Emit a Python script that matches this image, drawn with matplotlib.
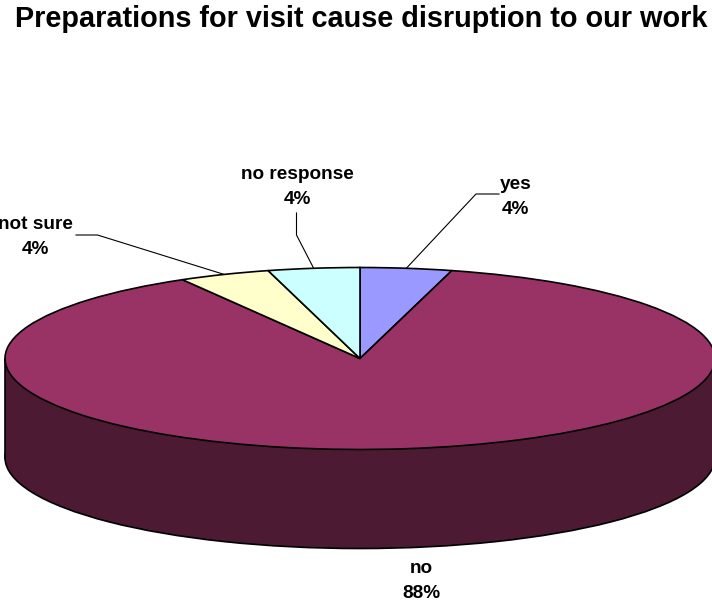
import numpy as np
import matplotlib
matplotlib.use('Agg')
import matplotlib.pyplot as plt

plt.rcParams['font.family'] = ['Liberation Sans', 'DejaVu Sans']

W, H = 712, 603
categories = ['yes', 'no', 'not sure', 'no response']
counts = [1, 21, 1, 1]
pct_labels = ['4%', '88%', '4%', '4%']
top_colors = ['#9999FF', '#993366', '#FFFFCC', '#CCFFFF']
wall_color = '#4C1B33'

# pie geometry in pixels of the picture
cx, cy = 360, 358.5
rx, ry = 355, 91
depth = 99

# label centre x and baseline of the first line, then elbows of the leader line
label_pos = {'yes': (515.5, 189), 'no': (421, 573), 'not sure': (35.5, 229), 'no response': (297, 179)}
line_step = 25
elbows = {'yes': [(476, 194), (499, 194)],
          'not sure': [(97.5, 235), (76, 235)],
          'no response': [(296.5, 235), (296.5, 213)]}


def to_data(x, y):
    return (x - cx) / rx, (cy - y) / ry


fig = plt.figure(figsize=(W / 100, H / 100), dpi=100)
ax = fig.add_axes([0, 0, 1, 1])

# side wall: bottom ellipse + band between the two ellipses
d = depth / ry
ax.pie([sum(counts)], colors=[wall_color], radius=1, center=(0, -d),
       wedgeprops={'edgecolor': 'black', 'linewidth': 1.2})
ax.fill_between([-1, 1], [-d, -d], [0, 0], color=wall_color, linewidth=0)
ax.plot([-1, -1], [-d, 0], color='black', lw=1.2)
ax.plot([1, 1], [-d, 0], color='black', lw=1.2)

# top face
wedges, _ = ax.pie(counts, colors=top_colors, startangle=90, counterclock=False, radius=1,
                   center=(0, 0), wedgeprops={'edgecolor': 'black', 'linewidth': 1.2})

ax.set_aspect('auto')
ax.set_xlim(to_data(0, 0)[0], to_data(W, 0)[0])
ax.set_ylim(to_data(0, H)[1], to_data(0, 0)[1])
ax.axis('off')

# labels and leader lines
for cat, pct, w in zip(categories, pct_labels, wedges):
    lx, ly = label_pos[cat]
    for i, s in enumerate([cat, pct]):
        ax.text(*to_data(lx, ly + i * line_step), s, ha='center', va='baseline', fontsize=13.7,
                fontweight='bold', color='black', clip_on=False)
    if cat in elbows:
        mid = np.deg2rad((w.theta1 + w.theta2) / 2)
        pts = [(np.cos(mid), np.sin(mid))] + [to_data(*p) for p in elbows[cat]]
        xs, ys = zip(*pts)
        ax.plot(xs, ys, color='black', lw=0.8)

fig.text(361 / W, 1 - 26.7 / H, 'Preparations for visit cause disruption to our work',
         ha='center', va='baseline', fontsize=20.8, fontweight='bold')

fig.savefig('out.png', dpi=100)
